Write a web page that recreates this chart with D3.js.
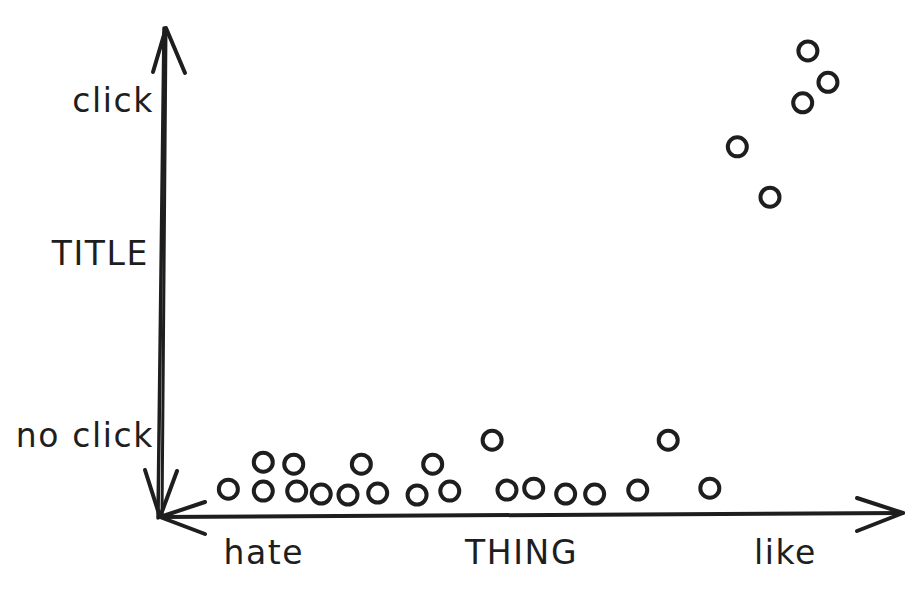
<!DOCTYPE html>
<html>
<head>
<meta charset="utf-8">
<script src="https://cdn.jsdelivr.net/npm/d3@7"></script>
<style>
  body { margin: 0; background: #fff; }
  text { font-family: "DejaVu Sans", sans-serif; fill: #1e1e1e; }
</style>
</head>
<body>
<div id="chart"></div>
<script>
// liking of the thing (0 = hate, 100 = like)
var likeValues = [9.2, 13.9, 18.4, 21.7, 25.3, 29.3, 34.6, 39.0, 46.7, 50.3, 54.6, 58.5, 64.3, 74.0,
                  13.9, 18.0, 27.1, 36.7, 44.7, 68.4,
                  87.2, 89.9, 86.5, 77.7, 82.1];
// clicking (0 = no click, 100 = click)
var clickValues = [5.7, 5.3, 5.3, 4.7, 4.5, 4.9, 4.5, 5.3, 5.5, 5.9, 4.7, 4.7, 5.5, 5.9,
                   11.2, 10.8, 10.8, 10.8, 15.7, 15.7,
                   95.3, 88.9, 84.7, 75.7, 65.4];

var xTickValues = [13.9, 48.6, 84.1];
var xTickLabels = ["hate", "THING", "like"];
var yTickValues = [16.6, 85];
var yTickLabels = ["no click", "click"];
var yTitle = "TITLE";

var width = 924, height = 590;
var ink = "#1e1e1e";
var fontSize = "33px";
var spacing = "1.6px";

var svg = d3.select("#chart")
    .append("svg")
    .attr("width", width)
    .attr("height", height);

var x = d3.scaleLinear().domain([0, 100]).range([160, 903]);
var y = d3.scaleLinear().domain([0, 100]).range([517, 28]);

var line = d3.line();

// y axis: two loose strokes, like a sketch
svg.append("path")
    .attr("d", line([[x(0) - 2, y(0) + 1], [x(0) + 4, y(100)]]))
    .attr("fill", "none").attr("stroke", ink).attr("stroke-width", 3.5)
    .attr("stroke-linecap", "round");
svg.append("path")
    .attr("d", line([[x(0) + 2, y(0)], [x(0) + 6, y(100) + 3]]))
    .attr("fill", "none").attr("stroke", ink).attr("stroke-width", 3)
    .attr("stroke-linecap", "round");

// x axis
svg.append("path")
    .attr("d", line([[x(0), y(0)], [x(100), y(0) - 4]]))
    .attr("fill", "none").attr("stroke", ink).attr("stroke-width", 4)
    .attr("stroke-linecap", "round");

// arrow heads
var heads = [
    [[x(0) - 7, y(100) + 44], [x(0) + 6, y(100)], [x(0) + 25, y(100) + 45]],   // up
    [[x(0) - 15, y(0) - 47], [x(0), y(0)], [x(0) + 17, y(0) - 46]],            // down
    [[x(0) + 45, y(0) - 15], [x(0), y(0)], [x(0) + 45, y(0) + 17]],            // left
    [[x(100) - 46, y(0) - 19], [x(100), y(0) - 4], [x(100) - 46, y(0) + 14]]   // right
];
svg.selectAll(".head")
    .data(heads)
    .enter()
    .append("path")
    .attr("class", "head")
    .attr("d", line)
    .attr("fill", "none")
    .attr("stroke", ink)
    .attr("stroke-width", 4)
    .attr("stroke-linecap", "round")
    .attr("stroke-linejoin", "round");

// tick labels through d3 axes (no ticks, no domain)
var xAxis = svg.append("g")
    .attr("transform", "translate(0," + y(0) + ")")
    .call(d3.axisBottom(x)
        .tickValues(xTickValues)
        .tickFormat(function (d, i) { return xTickLabels[i]; })
        .tickSize(0)
        .tickPadding(24));
var yAxis = svg.append("g")
    .attr("transform", "translate(" + x(0) + ",0)")
    .call(d3.axisLeft(y)
        .tickValues(yTickValues)
        .tickFormat(function (d, i) { return yTickLabels[i]; })
        .tickSize(0)
        .tickPadding(6));

[xAxis, yAxis].forEach(function (g) {
    g.select(".domain").remove();
    g.selectAll("text")
        .attr("fill", ink)
        .style("font-family", "'DejaVu Sans', sans-serif")
        .style("font-size", fontSize)
        .style("letter-spacing", spacing);
});

// axis title
svg.append("text")
    .attr("x", 149)
    .attr("y", 265)
    .attr("text-anchor", "end")
    .style("font-size", fontSize)
    .style("letter-spacing", spacing)
    .text(yTitle);

// points
var points = likeValues.map(function (d, i) { return {like: d, click: clickValues[i]}; });
svg.append("g")
    .selectAll("circle")
    .data(points)
    .enter()
    .append("circle")
    .attr("cx", function (d) { return x(d.like); })
    .attr("cy", function (d) { return y(d.click); })
    .attr("r", 9.5)
    .attr("fill", "none")
    .attr("stroke", ink)
    .attr("stroke-width", 4);
</script>
</body>
</html>
